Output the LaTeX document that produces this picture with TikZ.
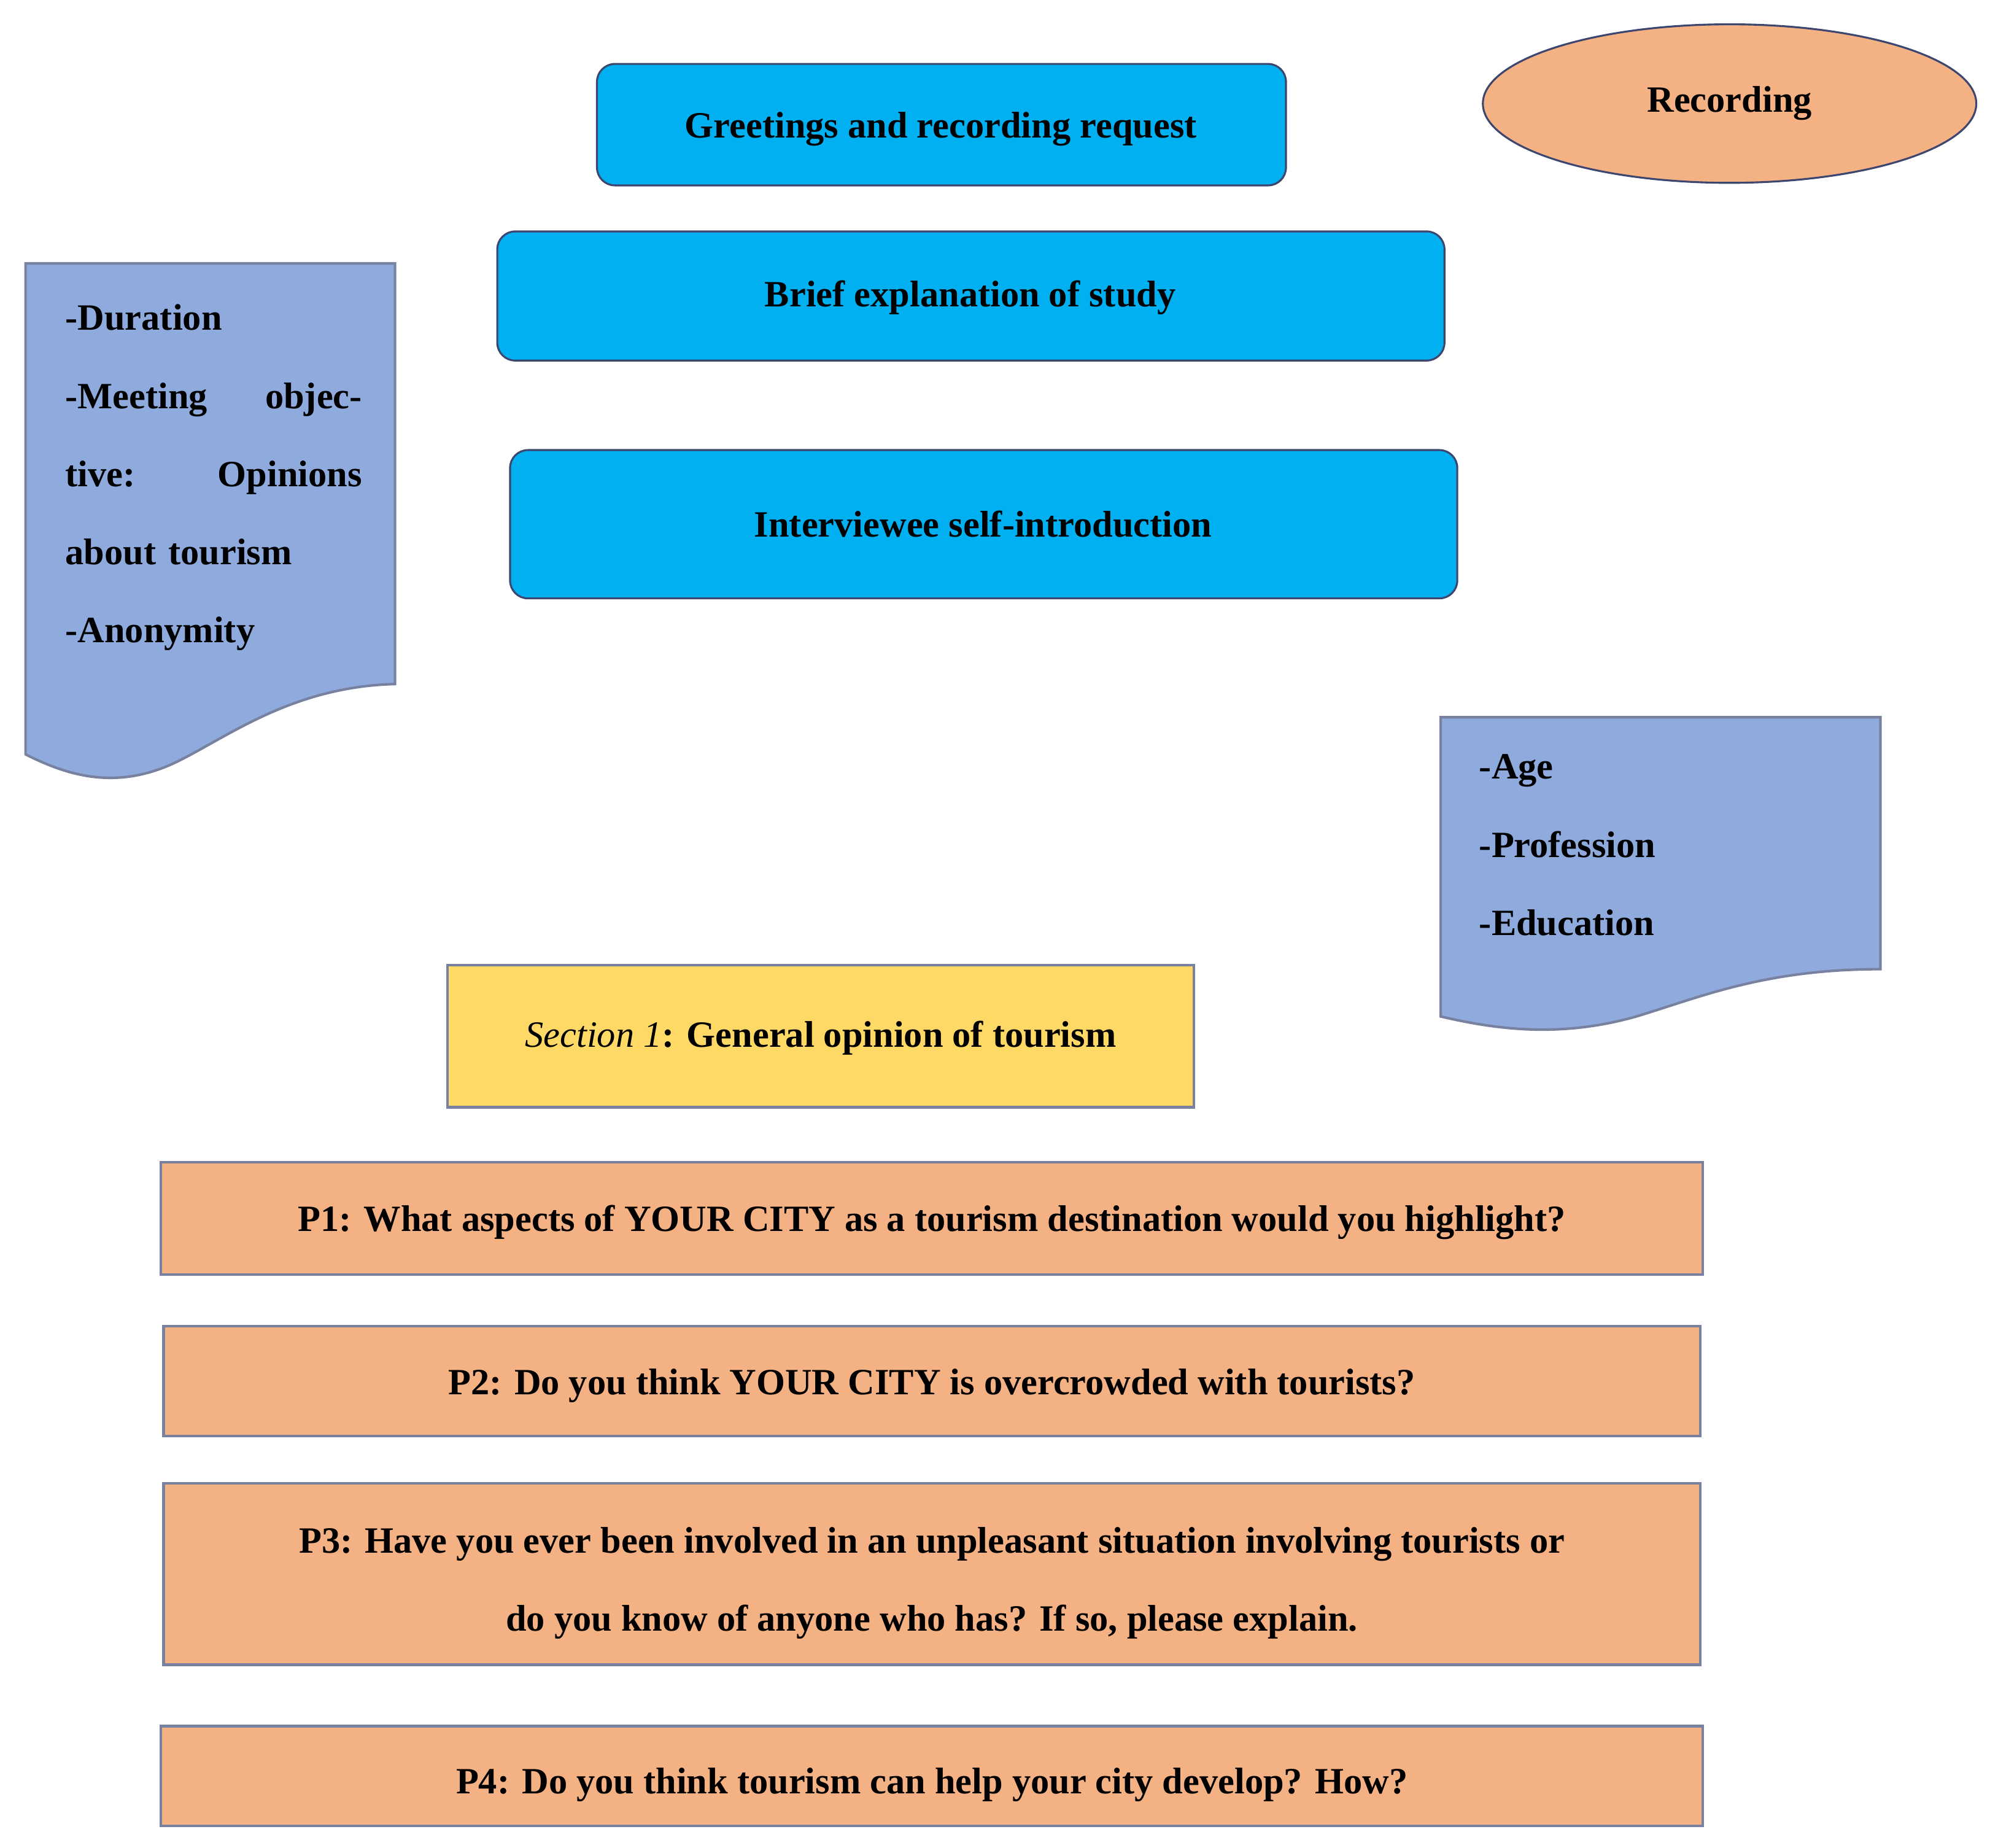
\documentclass[tikz,border=0pt]{standalone}
\usepackage{fontspec}
\setmainfont{Liberation Serif}
\usetikzlibrary{shapes.geometric}
\definecolor{cyanbox}{RGB}{0,176,240}
\definecolor{orangebox}{RGB}{244,177,131}
\definecolor{docblue}{RGB}{143,170,220}
\definecolor{yellowbox}{RGB}{255,217,102}
\definecolor{edge}{RGB}{60,70,110}
\definecolor{edgegray}{RGB}{120,130,160}
\begin{document}
\begin{tikzpicture}[x=1pt,y=-1pt,
  every node/.style={font=\fontsize{29}{36}\selectfont\bfseries},
  rbox/.style={draw=edge,line width=1.5pt,fill=cyanbox,rounded corners=14pt},
  qbox/.style={draw=edgegray,line width=2pt,fill=orangebox},
  doc/.style={draw=edgegray,line width=2pt,fill=docblue}]
\useasboundingbox (0,0) rectangle (1563,1445);
\draw[rbox] (467,50) rectangle (1006,145);
\node (g) at (736,101) {Greetings and recording request};
\node[ellipse,draw=edge,line width=1.5pt,fill=orangebox,minimum width=386pt,minimum height=124pt] (rec) at (1353,81) {Recording};
\draw[rbox] (389,181) rectangle (1130,282);
\node (b) at (759,233) {Brief explanation of study};
\draw[rbox] (399,352) rectangle (1140,468);
\node (i) at (769,410) {Interviewee self-introduction};
\draw[doc] (20,590) -- (20,206) -- (309,206) -- (309,535) .. controls (230,537) and (180,575) .. (140,595) .. controls (90,620) and (50,605) .. cycle;
\node[anchor=north west,align=left,text width=232pt,inner sep=0pt,font=\fontsize{29}{61}\selectfont\bfseries] (dl) at (51,238) {-Duration\\-Meeting\hfill objec-\\tive:\hfill Opinions\\about tourism\\-Anonymity};
\draw[doc] (1127,795) -- (1127,561) -- (1471,561) -- (1471,758) .. controls (1380,758) and (1330,780) .. (1280,795) .. controls (1220,812) and (1170,805) .. cycle;
\node[anchor=north west,align=left,inner sep=0pt,font=\fontsize{29}{61}\selectfont\bfseries] (dr) at (1157,590) {-Age\\-Profession\\-Education};
\draw[draw=edgegray,line width=2pt,fill=yellowbox] (350,755) rectangle (934,866);
\node (s) at (642,812) {\textit{\mdseries Section 1}: General opinion of tourism};
\draw[qbox] (126,909) rectangle (1332,997);
\node (p1) at (729,956) {P1: What aspects of YOUR CITY as a tourism destination would you highlight?};
\draw[qbox] (128,1037) rectangle (1330,1123);
\node (p2) at (729,1084) {P2: Do you think YOUR CITY is overcrowded with tourists?};
\draw[qbox] (128,1160) rectangle (1330,1302);
\node[align=center,font=\fontsize{29}{61}\selectfont\bfseries] (p3) at (729,1238) {P3: Have you ever been involved in an unpleasant situation involving tourists or\\do you know of anyone who has? If so, please explain.};
\draw[qbox] (126,1350) rectangle (1332,1428);
\node (p4) at (729,1396) {P4: Do you think tourism can help your city develop? How?};
\end{tikzpicture}
\end{document}
